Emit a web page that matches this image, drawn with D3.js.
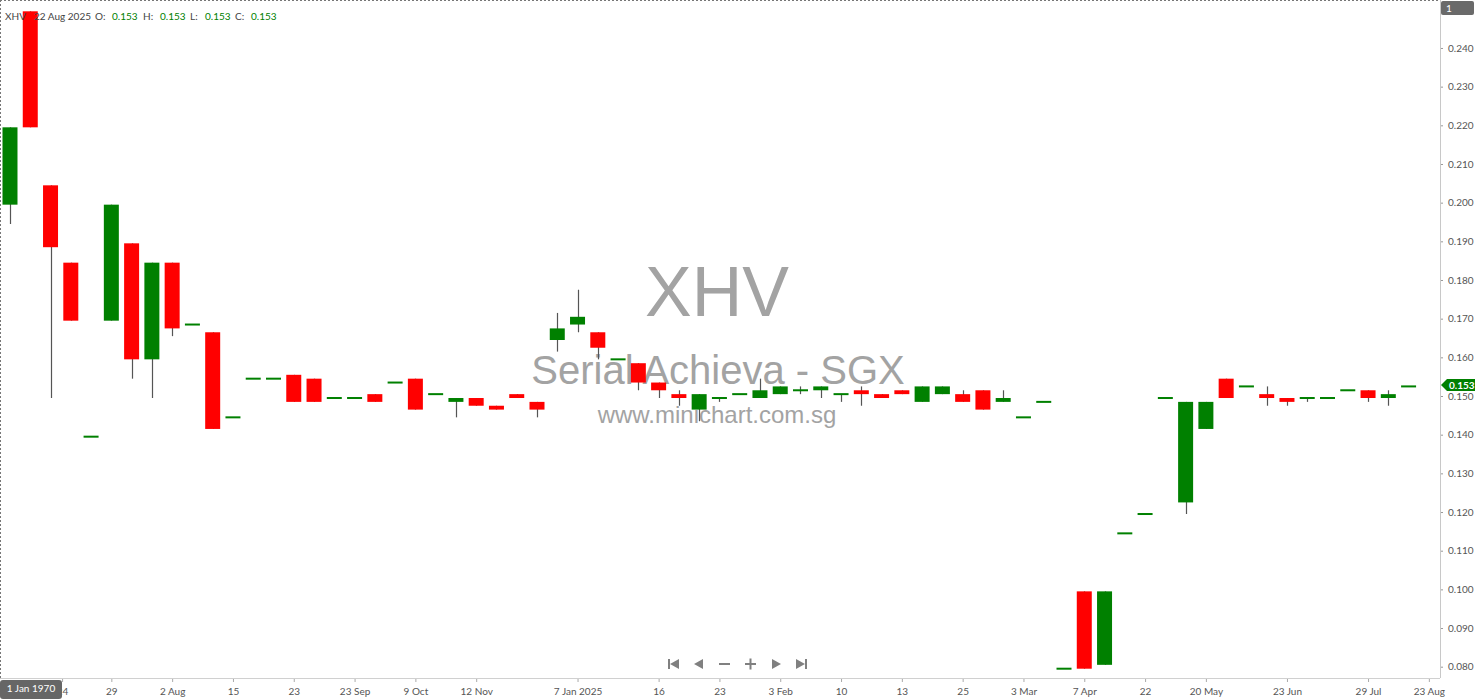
<!DOCTYPE html>
<html>
<head>
<meta charset="utf-8">
<script src="https://cdn.jsdelivr.net/npm/d3@7/dist/d3.min.js"></script>
<style>
  html, body { margin: 0; padding: 0; background: #fff; overflow: hidden; }
  svg { display: block; font-family: Lato, "Open Sans", sans-serif; }
</style>
</head>
<body>
<svg id="chart" width="1480" height="699"></svg>
<script>
// ---- DATA ----
const symbol = "XHV";
const company = "Serial Achieva - SGX";
const site = "www.minichart.com.sg";
const lastDate = "22 Aug 2025";
const cursorDate = "1 Jan 1970";

const opens  = [0.200,0.250,0.205,0.185,0.140,0.170,0.190,0.160,0.185,0.169,
                0.167,0.145,0.155,0.155,0.156,0.155,0.150,0.150,0.151,0.154,
                0.155,0.151,0.149,0.150,0.148,0.151,0.149,0.165,0.169,0.167,
                0.160,0.159,0.154,0.151,0.147,0.150,0.151,0.150,0.151,0.152,
                0.152,0.151,0.152,0.151,0.152,0.149,0.151,0.151,0.152,0.149,
                0.145,0.149,0.080,0.100,0.081,0.115,0.120,0.150,0.123,0.142,
                0.155,0.153,0.151,0.150,0.150,0.150,0.152,0.152,0.150,0.153];
const highs  = [0.220,0.250,0.205,0.185,0.140,0.200,0.190,0.185,0.185,0.169,
                0.167,0.145,0.155,0.155,0.156,0.155,0.150,0.150,0.151,0.154,
                0.155,0.151,0.150,0.150,0.148,0.151,0.149,0.172,0.178,0.167,
                0.160,0.159,0.154,0.152,0.151,0.150,0.151,0.155,0.153,0.153,
                0.153,0.151,0.153,0.151,0.152,0.153,0.153,0.152,0.152,0.152,
                0.145,0.149,0.080,0.100,0.100,0.115,0.120,0.150,0.149,0.149,
                0.155,0.153,0.153,0.150,0.150,0.150,0.152,0.152,0.152,0.153];
const lows   = [0.195,0.220,0.150,0.170,0.140,0.170,0.155,0.150,0.166,0.169,
                0.142,0.145,0.155,0.155,0.149,0.149,0.150,0.150,0.149,0.154,
                0.147,0.151,0.145,0.148,0.147,0.150,0.145,0.162,0.167,0.160,
                0.160,0.152,0.150,0.148,0.144,0.149,0.151,0.150,0.151,0.151,
                0.150,0.149,0.148,0.150,0.151,0.149,0.151,0.149,0.147,0.149,
                0.145,0.149,0.080,0.080,0.081,0.115,0.120,0.150,0.120,0.142,
                0.150,0.153,0.148,0.148,0.149,0.150,0.152,0.149,0.148,0.153];
const closes = [0.220,0.220,0.189,0.170,0.140,0.200,0.160,0.185,0.168,0.169,
                0.142,0.145,0.155,0.155,0.149,0.149,0.150,0.150,0.149,0.154,
                0.147,0.151,0.150,0.148,0.147,0.150,0.147,0.168,0.171,0.163,
                0.160,0.154,0.152,0.150,0.151,0.150,0.151,0.152,0.153,0.152,
                0.153,0.151,0.151,0.150,0.151,0.153,0.153,0.149,0.147,0.150,
                0.145,0.149,0.080,0.080,0.100,0.115,0.120,0.150,0.149,0.149,
                0.150,0.153,0.150,0.149,0.150,0.150,0.152,0.150,0.151,0.153];

const xTickIndex  = [2.57, 5, 8, 11, 14, 17, 20, 23, 28, 32, 35, 38, 41, 44, 47, 50, 53, 56, 59, 63, 67, 70];
const xTickLabels = ["24","29","2 Aug","15","23","23 Sep","9 Oct","12 Nov","7 Jan 2025","16","23","3 Feb","10","13","25","3 Mar","7 Apr","22","20 May","23 Jun","29 Jul","23 Aug"];
const yTicks = [0.080,0.090,0.100,0.110,0.120,0.130,0.140,0.150,0.160,0.170,0.180,0.190,0.200,0.210,0.220,0.230,0.240];

// ---- LAYOUT ----
const W = 1480, H = 699;
const plotRight = 1440, plotBottom = 678;
const RED = "#ff0000", GREEN = "#008000";

const svg = d3.select("#chart");

const x = d3.scaleLinear().domain([-0.493, 70.55]).range([0, plotRight]);
const y = d3.scaleLinear().domain([0.080, 0.240]).range([668.7, 49.98]);

const candles = opens.map((o, i) => ({i, o, h: highs[i], l: lows[i], c: closes[i]}));

// watermark
const wm = svg.append("g").attr("fill", "#a3a3a3").attr("text-anchor", "middle")
  .style("font-family", "'Liberation Sans', Arial, sans-serif");
wm.append("text").attr("x", 717).attr("y", 316).attr("font-size", 70).text(symbol);
wm.append("text").attr("x", 718).attr("y", 384).attr("font-size", 40).text(company);
wm.append("text").attr("x", 717).attr("y", 423).attr("font-size", 24).text(site);

// border (dotted)
svg.append("line").attr("x1", 0).attr("x2", plotRight).attr("y1", 0.5).attr("y2", 0.5)
  .attr("stroke", "#777").attr("stroke-dasharray", "2,2");
svg.append("line").attr("x1", 0.5).attr("x2", 0.5).attr("y1", 0).attr("y2", plotBottom)
  .attr("stroke", "#777").attr("stroke-dasharray", "2,2");

// candles
const bw = 15;
const cg = svg.append("g");
cg.selectAll("line.wick").data(candles.filter(d => d.h !== d.l)).join("line")
  .attr("class", "wick")
  .attr("x1", d => Math.round(x(d.i)) + 0.5).attr("x2", d => Math.round(x(d.i)) + 0.5)
  .attr("y1", d => y(d.h)).attr("y2", d => y(d.l))
  .attr("stroke", "#555").attr("stroke-width", 1.2);
cg.selectAll("rect.body").data(candles).join("rect")
  .attr("class", "body")
  .attr("x", d => x(d.i) - bw / 2)
  .attr("width", bw)
  .attr("y", d => d.o === d.c ? y(d.c) - 1 : y(Math.max(d.o, d.c)))
  .attr("height", d => d.o === d.c ? 2 : Math.abs(y(d.o) - y(d.c)))
  .attr("fill", d => d.c > d.o ? GREEN : d.c < d.o ? RED : GREEN);

// right axis
const yAxis = d3.axisRight(y).tickValues(yTicks).tickFormat(d3.format(".3f")).tickSize(3).tickPadding(5);
const ya = svg.append("g").attr("transform", `translate(${plotRight},-2)`).call(yAxis);
ya.select(".domain").remove();
ya.selectAll(".tick line").attr("stroke", "#999");
ya.selectAll(".tick text").attr("fill", "#555").attr("font-size", 10).attr("font-family", "Lato, sans-serif");
svg.append("line").attr("x1", plotRight + 0.5).attr("x2", plotRight + 0.5).attr("y1", 0).attr("y2", plotBottom)
  .attr("stroke", "#c8c8c8");

// bottom axis
const xAxis = d3.axisBottom(x).tickValues(xTickIndex)
  .tickFormat((d, k) => xTickLabels[k]).tickSize(4).tickPadding(6);
const xa = svg.append("g").attr("transform", `translate(0,${plotBottom})`).call(xAxis);
xa.select(".domain").remove();
xa.selectAll(".tick line").attr("stroke", "#aaa");
xa.selectAll(".tick text").attr("fill", "#555").attr("font-size", 10).attr("font-family", "Lato, sans-serif");
svg.append("line").attr("x1", 0).attr("x2", plotRight).attr("y1", plotBottom + 0.5).attr("y2", plotBottom + 0.5)
  .attr("stroke", "#d0d0d0");

// header
const hdr = svg.append("g").attr("font-size", 10).attr("font-family", "Lato, sans-serif");
const last = candles[candles.length - 1];
const f3 = d3.format(".3f");
const hdrItems = [
  {x: 5, t: symbol, c: "#444"}, {x: 34, t: lastDate, c: "#444"},
  {x: 95, t: "O:", c: "#444"}, {x: 112, t: f3(last.o), c: GREEN},
  {x: 143, t: "H:", c: "#444"}, {x: 160, t: f3(last.h), c: GREEN},
  {x: 190, t: "L:", c: "#444"}, {x: 205, t: f3(last.l), c: GREEN},
  {x: 235, t: "C:", c: "#444"}, {x: 251, t: f3(last.c), c: GREEN}
];
hdr.selectAll("text").data(hdrItems).join("text")
  .attr("x", d => d.x).attr("y", 19.5).attr("fill", d => d.c).text(d => d.t);

// last price tag
const py = y(last.c) - 1.5;
svg.append("path")
  .attr("d", `M${plotRight + 1},${py} L${plotRight + 7},${py - 6} L${plotRight + 35},${py - 6} L${plotRight + 35},${py + 6} L${plotRight + 7},${py + 6} Z`)
  .attr("fill", GREEN);
svg.append("text").attr("x", plotRight + 9).attr("y", py + 3.6).attr("fill", "#fff")
  .attr("font-size", 10).attr("font-weight", "bold").attr("font-family", "Lato, sans-serif").text(f3(last.c));

// "1" box
svg.append("rect").attr("x", plotRight + 1).attr("y", 1).attr("width", 33).attr("height", 14).attr("rx", 2).attr("fill", "#6a6a6a");
svg.append("text").attr("x", plotRight + 6).attr("y", 12).attr("fill", "#fff").attr("font-size", 10)
  .attr("font-family", "Lato, sans-serif").text("1");

// cursor date box
svg.append("rect").attr("x", 0).attr("y", 680).attr("width", 62).attr("height", 19).attr("rx", 3).attr("fill", "#666");
svg.append("text").attr("x", 31).attr("y", 692).attr("text-anchor", "middle").attr("fill", "#fff")
  .attr("font-size", 10).attr("font-family", "Lato, sans-serif").text(cursorDate);

// navigation buttons
const nav = svg.append("g").attr("fill", "#808080");
nav.append("rect").attr("x", 668).attr("y", 659).attr("width", 2).attr("height", 10);
nav.append("path").attr("d", "M679,659 L679,669 L670,664 Z");
nav.append("path").attr("d", "M703,659 L703,669 L694,664 Z");
nav.append("rect").attr("x", 719).attr("y", 663).attr("width", 11).attr("height", 2);
nav.append("rect").attr("x", 745).attr("y", 663).attr("width", 11).attr("height", 2);
nav.append("rect").attr("x", 749.5).attr("y", 658.5).attr("width", 2).attr("height", 11);
nav.append("path").attr("d", "M772,659 L772,669 L781,664 Z");
nav.append("path").attr("d", "M796,659 L796,669 L805,664 Z");
nav.append("rect").attr("x", 805).attr("y", 659).attr("width", 2).attr("height", 10);
</script>
</body>
</html>
